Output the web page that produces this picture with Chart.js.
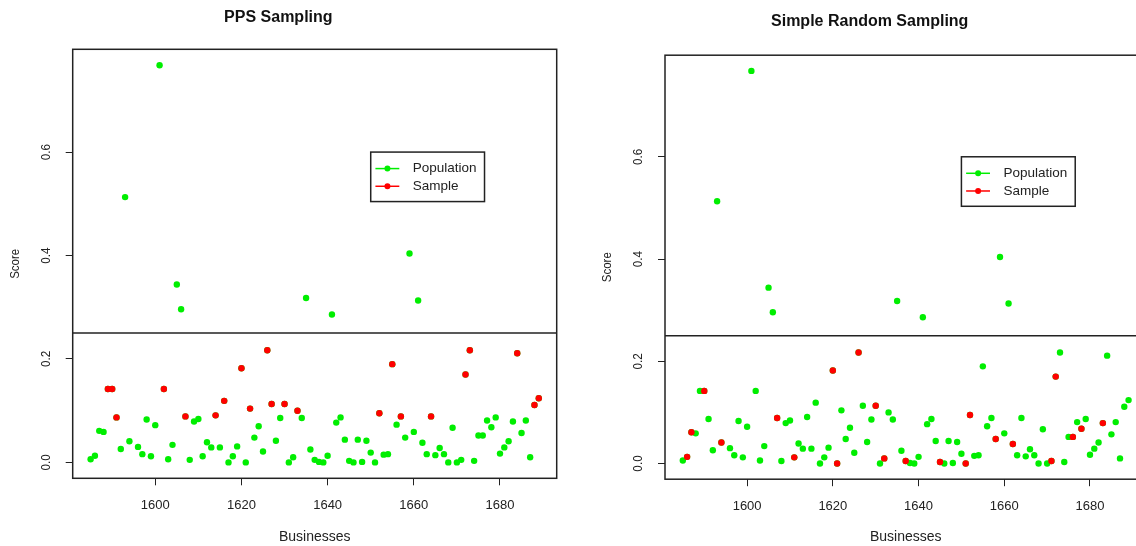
<!DOCTYPE html>
<html>
<head>
<meta charset="utf-8">
<script src="https://cdn.jsdelivr.net/npm/chart.js@4.4.1/dist/chart.umd.min.js"></script>
<style>
  html, body { margin:0; padding:0; background:#fff; overflow:hidden; }
  #wrap { position:relative; width:1136px; height:546px; overflow:hidden; background:#fff; }
  canvas { position:absolute; top:0; }
</style>
</head>
<body>
<div id="wrap">
  <canvas id="pps" width="560" height="546" style="left:0px"></canvas>
  <canvas id="srs" width="560" height="546" style="left:593px"></canvas>
</div>
<script>
// ---------------- DATA ----------------
const businesses = [
  1585,1586,1587,1588,1589,1590,1591,1592,1593,1594,1596,1597,1598,1599,1600,
  1601,1602,1603,1604,1605,1606,1607,1608,1609,1610,1611,1612,1613,1614,1615,
  1616,1617,1618,1619,1620,1621,1622,1623,1624,1625,1626,1627,1628,1629,1630,
  1631,1632,1633,1634,1635,1636,1637,1638,1639,1640,1641,1642,1643,1644,1645,
  1646,1647,1648,1649,1650,1651,1652,1653,1654,1655,1656,1657,1658,1659,1660,
  1661,1662,1663,1664,1665,1666,1667,1668,1669,1670,1671,1672,1673,1674,1675,
  1676,1677,1678,1679,1680,1681,1682,1683,1684,1685,1686,1687,1688,1689
];
const scores = [
  0.006,0.013,0.061,0.059,0.142,0.142,0.087,0.026,0.513,0.041,0.030,0.016,0.083,0.012,0.072,
  0.768,0.142,0.006,0.034,0.344,0.296,0.089,0.005,0.079,0.084,0.012,0.039,0.029,0.091,0.029,
  0.119,0.000,0.012,0.031,0.182,0.000,0.104,0.048,0.070,0.021,0.217,0.113,0.042,0.086,0.113,
  0.000,0.010,0.100,0.086,0.318,0.025,0.005,0.001,0.000,0.013,0.286,0.077,0.087,0.044,0.003,
  0.000,0.044,0.001,0.042,0.019,0.000,0.095,0.015,0.016,0.190,0.073,0.089,0.048,0.404,0.059,
  0.313,0.038,0.016,0.089,0.014,0.028,0.016,0.000,0.067,0.000,0.005,0.170,0.217,0.003,0.052,
  0.052,0.081,0.068,0.087,0.017,0.029,0.041,0.079,0.211,0.057,0.081,0.010,0.111,0.124
];
const ppsSampleIds = [1589,1590,1591,1602,1607,1614,1616,1620,1622,1626,1627,1630,1633,1652,1655,1657,1664,1672,1673,1684,1688,1689];
const srsSampleIds = [1586,1587,1590,1594,1607,1611,1620,1621,1626,1630,1632,1637,1645,1651,1652,1658,1662,1671,1672,1676,1678,1683];
const xTickValues = [1600,1620,1640,1660,1680];
const yTickValues = [0.0,0.2,0.4,0.6];
const cutoffScore = 0.25;
const seriesLabels = ['Population','Sample'];
const panelTitles = ['PPS Sampling','Simple Random Sampling'];
const legendAnchor = {x:1650, y:0.6};

// ---------------- STYLE ----------------
const FONT = '"Liberation Sans", Arial, "DejaVu Sans", sans-serif';
const GREEN = '#00ee00';
const RED = '#ff0000';
const INK = '#222222';

// R-style axis extension (4% each side)
const xLo = Math.min(...businesses), xHi = Math.max(...businesses);
const yLo = Math.min(...scores), yHi = Math.max(...scores);
const xPad = (xHi - xLo) * 0.04, yPad = (yHi - yLo) * 0.04;

const framePlugin = {
  id: 'rframe',
  afterDraw(chart) {
    const ctx = chart.ctx;
    const a = chart.chartArea;
    const xs = chart.scales.x, ys = chart.scales.y;
    ctx.save();
    // cutoff line
    ctx.strokeStyle = INK;
    ctx.lineWidth = 1.5;
    const yc = ys.getPixelForValue(cutoffScore);
    ctx.beginPath(); ctx.moveTo(a.left, yc); ctx.lineTo(a.right, yc); ctx.stroke();
    // box
    ctx.strokeRect(a.left, a.top, a.right - a.left, a.bottom - a.top);
    // y tick labels (rotated, R style)
    ctx.fillStyle = INK;
    ctx.font = '13px ' + FONT;
    ctx.textAlign = 'center';
    ctx.textBaseline = 'middle';
    ys.ticks.forEach(t => {
      const py = ys.getPixelForValue(t.value);
      ctx.save();
      ctx.translate(a.left - 26.3, py);
      ctx.rotate(-Math.PI / 2);
      ctx.scale(0.9, 1);
      ctx.fillText(t.value.toFixed(1), 0, 0);
      ctx.restore();
    });
    // y axis title
    ctx.save();
    ctx.translate(a.left - 57.5, (a.top + a.bottom) / 2);
    ctx.rotate(-Math.PI / 2);
    ctx.scale(0.85, 1);
    ctx.font = '13.5px ' + FONT;
    ctx.fillText('Score', 0, 0);
    ctx.restore();
    // legend
    const lx = xs.getPixelForValue(legendAnchor.x);
    const ly = ys.getPixelForValue(legendAnchor.y);
    ctx.font = '13.5px ' + FONT;
    const ds = chart.data.datasets;
    const tw = Math.max(...ds.map(d => ctx.measureText(d.label).width));
    const bw = 42 + tw + 8, bh = 49.5;
    ctx.lineWidth = 1.5;
    ctx.strokeStyle = INK;
    ctx.strokeRect(lx, ly, bw, bh);
    ds.forEach((d, i) => {
      const ry = ly + 16.5 + i * 17.7;
      ctx.strokeStyle = d.borderColor;
      ctx.lineWidth = 1.5;
      ctx.beginPath(); ctx.moveTo(lx + 4.7, ry); ctx.lineTo(lx + 28.6, ry); ctx.stroke();
      ctx.fillStyle = d.backgroundColor;
      ctx.beginPath(); ctx.arc(lx + 16.7, ry, 3, 0, Math.PI * 2); ctx.fill();
      ctx.fillStyle = INK;
      ctx.textAlign = 'left';
      ctx.textBaseline = 'middle';
      ctx.fillText(d.label, lx + 42, ry);
    });
    ctx.restore();
  }
};

function makePanel(canvasId, title, sampleIds, g) {
  const pop = businesses.map((b, i) => ({x: b, y: scores[i]}));
  const samp = sampleIds.map(id => ({x: id, y: scores[businesses.indexOf(id)]}));
  return new Chart(document.getElementById(canvasId), {
    type: 'scatter',
    data: {
      datasets: [
        {label: seriesLabels[0], data: pop, backgroundColor: GREEN, borderColor: GREEN,
         pointRadius: 3.2, pointHoverRadius: 3.2, borderWidth: 0, order: 1},
        {label: seriesLabels[1], data: samp, backgroundColor: RED, borderColor: RED,
         pointRadius: 3.2, pointHoverRadius: 3.2, borderWidth: 0, order: 0}
      ]
    },
    options: {
      responsive: false,
      animation: false,
      events: [],
      layout: {padding: {left: 0, right: g.padRight, top: 0, bottom: 0}},
      plugins: {
        legend: {display: false},
        tooltip: {enabled: false},
        title: {
          display: true, text: title, color: '#111',
          font: {family: FONT, size: 16, weight: 'bold'},
          padding: {top: g.titleTop, bottom: g.titleBottom}
        }
      },
      scales: {
        x: {
          type: 'linear',
          min: xLo - xPad, max: xHi + xPad,
          afterBuildTicks: s => { s.ticks = xTickValues.map(v => ({value: v})); },
          afterFit: s => { s.height = g.xHeight; },
          border: {display: false},
          grid: {drawOnChartArea: false, drawTicks: true, tickLength: 7, color: INK, lineWidth: 1},
          ticks: {color: INK, font: {family: FONT, size: 13}, padding: 12,
                  maxRotation: 0, minRotation: 0, autoSkip: false,
                  callback: v => String(v)},
          title: {display: true, text: 'Businesses', color: INK,
                  font: {family: FONT, size: 14}, padding: {top: 0, bottom: 0}}
        },
        y: {
          type: 'linear',
          min: yLo - yPad, max: yHi + yPad,
          afterBuildTicks: s => { s.ticks = yTickValues.map(v => ({value: v})); },
          afterFit: s => { s.width = g.yWidth; },
          border: {display: false},
          grid: {drawOnChartArea: false, drawTicks: true, tickLength: 7, color: INK, lineWidth: 1},
          ticks: {display: false}
        }
      }
    },
    plugins: [framePlugin]
  });
}

makePanel('pps', panelTitles[0], ppsSampleIds,
  {padRight: 3.3, titleTop: 7.8, titleBottom: 22.3, xHeight: 67.7, yWidth: 72.7});
makePanel('srs', panelTitles[1], srsSampleIds,
  {padRight: 6.6, titleTop: 11.6, titleBottom: 24.4, xHeight: 66.8, yWidth: 72});
</script>
</body>
</html>
